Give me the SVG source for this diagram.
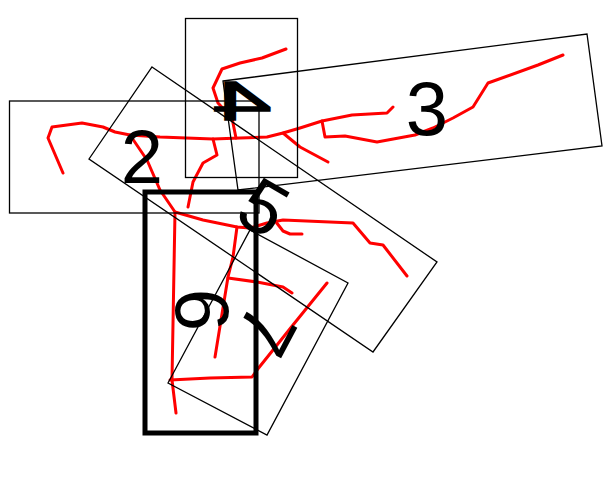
<svg xmlns="http://www.w3.org/2000/svg" width="609" height="477" viewBox="0 0 609 477">
<style>
.red{fill:none;stroke:#ff0000;stroke-width:3;stroke-linejoin:round;stroke-linecap:round}
.box{fill:none;stroke:#000;stroke-width:1.3}
.thick{fill:none;stroke:#000;stroke-width:5}
.lbl{font-family:"Liberation Sans",Arial,sans-serif;font-size:76px;fill:#000;text-anchor:middle}
.bold4{stroke:#000;stroke-width:2.2;stroke-linejoin:miter}
</style>
<rect width="609" height="477" fill="#fff"/>
<g id="connectors">
<polyline class="red" points="63,173 48,138 52,127 82,123 103,127 115,132 130,135 160,137 213,139 240,138 267,137 283,133 300,128 322,121 352,115 387,113 393,107"/>
<polyline class="red" points="322,121 325,137 345,136 377,142 415,135 433,128 453,118 473,107 488,83 538,65 563,55"/>
<polyline class="red" points="283,133 300,147 328,162"/>
<polyline class="red" points="213,139 217,155 203,163 193,182 188,207"/>
<polyline class="red" points="286,49 262,58 240,63 222,69 213,88 218,103 232,118 236,138"/>
<polyline class="red" points="130,135 147,160 160,190 175,212 203,220 237,227 250,228 267,223 283,220 353,223 370,243 383,245 407,276"/>
<polyline class="red" points="276,222 283,231 290,234 302,234"/>
<polyline class="red" points="175,212 172,380 176,413"/>
<polyline class="red" points="237,227 233,257 228,277 215,357"/>
<polyline class="red" points="228,278 257,282 283,287 292,293"/>
<polyline class="red" points="327,283 293,325 257,370 252,377 210,378 170,380"/>
</g>
<g id="node2">
<rect class="box" x="9.5" y="101" width="249.5" height="112"/>
<text class="lbl" x="142" y="183">2</text>
</g>
<g id="node3">
<polygon class="box" points="223,81 587,34 602,146 238,190"/>
<text class="lbl" x="427" y="135">3</text>
</g>
<g id="node4">
<rect class="box" x="185.5" y="18.5" width="112" height="159"/>
<text class="lbl bold4" transform="translate(242,101) scale(-1.4,0.72)" x="0" y="27">4</text>
</g>
<g id="node5">
<polygon class="box" points="152,67 437,262 373,352 89,159"/>
<text class="lbl" transform="translate(264,207) rotate(30)" x="0" y="27">5</text>
</g>
<g id="node6">
<rect class="thick" x="145" y="192" width="111" height="241"/>
<text class="lbl" transform="translate(203,310) rotate(90)" x="0" y="27">6</text>
</g>
<g id="node7">
<polygon class="box" points="168,383 250,230 348,283 267,435"/>
<text class="lbl" transform="translate(267,331) rotate(118)" x="0" y="27">7</text>
</g>
</svg>
